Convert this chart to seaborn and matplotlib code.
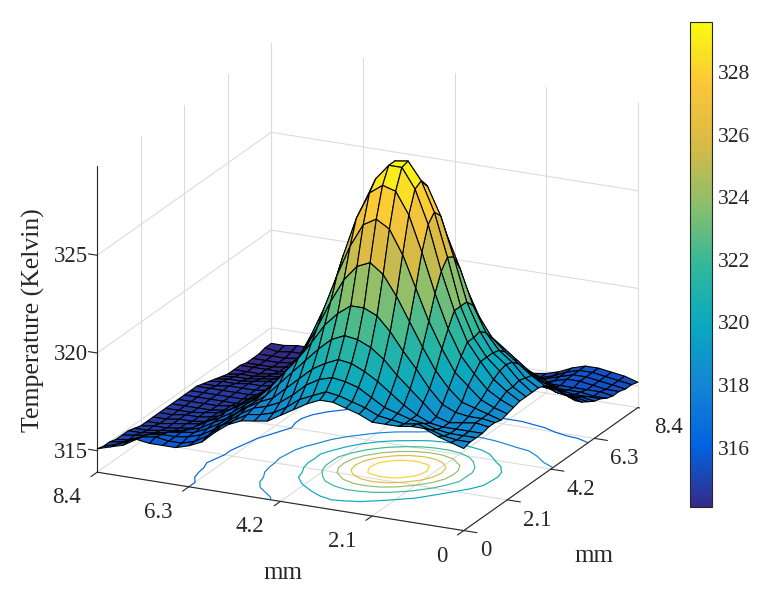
import numpy as np
import matplotlib
matplotlib.use("Agg")
import matplotlib.pyplot as plt
from matplotlib.colors import Normalize
from mpl_toolkits.mplot3d import proj3d
import seaborn as sns

# One row per y (0 to 8.4 mm), one column per x (0 to 8.4 mm)
grid_mm = [0.3 * k for k in range(29)]
temperature = [
    [318.1,318.3,318.5,318.8,318.8,318.7,318.7,318.7,319.0,319.2,319.4,319.4,319.1,318.7,318.3,317.9,317.8,317.7,317.4,316.9,316.3,316.0,315.8,315.8,315.8,315.9,315.5,315.3,315.1],
    [318.2,318.2,318.3,318.5,318.7,318.6,318.7,318.8,319.1,319.3,319.5,319.6,319.3,319.0,318.5,318.1,317.9,317.8,317.4,317.0,316.4,316.0,315.8,315.8,315.9,315.8,315.5,315.2,315.0],
    [318.2,318.2,318.2,318.3,318.5,318.6,318.8,319.0,319.4,319.8,320.0,320.1,319.9,319.5,318.9,318.4,318.1,317.9,317.5,317.0,316.5,316.1,315.9,315.8,315.8,315.7,315.4,315.1,315.0],
    [318.2,318.2,318.2,318.2,318.3,318.6,319.0,319.5,320.0,320.4,320.7,320.8,320.5,320.1,319.5,318.9,318.3,318.0,317.6,317.1,316.6,316.2,315.9,315.8,315.7,315.5,315.2,315.0,314.9],
    [318.3,318.4,318.3,318.2,318.4,319.0,319.6,320.2,320.9,321.4,321.7,321.8,321.5,320.9,320.2,319.5,318.8,318.1,317.6,317.1,316.6,316.3,315.9,315.7,315.5,315.3,315.1,315.0,314.9],
    [318.3,318.4,318.4,318.5,318.8,319.5,320.4,321.2,322.1,322.8,323.1,323.1,322.6,321.9,320.9,320.0,319.2,318.4,317.7,317.2,316.7,316.3,316.0,315.6,315.3,315.1,315.0,314.9,314.9],
    [318.2,318.4,318.6,318.8,319.4,320.2,321.3,322.5,323.7,324.7,325.2,324.9,324.1,322.9,321.5,320.2,319.2,318.5,317.8,317.2,316.8,316.4,315.9,315.4,315.1,315.0,314.9,314.8,314.8],
    [318.3,318.5,318.8,319.4,320.0,321.1,322.4,324.0,325.6,326.8,327.2,326.8,325.6,324.0,322.2,320.7,319.4,318.6,317.8,317.2,316.8,316.3,315.8,315.3,315.0,314.9,314.8,314.8,314.7],
    [318.4,318.7,319.1,319.8,320.6,321.9,323.6,325.6,327.4,328.5,328.7,328.2,326.8,324.8,322.6,320.9,319.6,318.7,317.9,317.2,316.8,316.3,315.8,315.2,315.0,314.9,314.8,314.7,314.7],
    [318.5,318.9,319.4,320.2,321.1,322.6,324.5,326.8,328.5,329.5,329.5,328.7,327.2,325.0,322.6,320.9,319.5,318.6,317.8,317.2,316.7,316.2,315.7,315.2,314.9,314.8,314.8,314.7,314.7],
    [318.5,318.9,319.6,320.2,321.1,322.6,325.0,327.2,328.7,329.6,329.5,328.5,326.8,324.5,322.5,320.9,319.6,318.5,317.7,317.1,316.6,316.1,315.6,315.1,314.9,314.8,314.8,314.7,314.7],
    [318.5,319.0,319.7,320.2,321.2,322.6,324.8,326.8,328.2,328.7,328.5,327.4,325.6,323.6,321.8,320.3,319.2,318.2,317.5,317.0,316.5,316.0,315.5,315.1,314.9,314.8,314.7,314.7,314.7],
    [318.5,318.9,319.6,320.1,320.9,322.2,324.0,325.6,326.8,327.2,326.8,325.6,324.0,322.4,321.0,319.7,318.7,317.8,317.2,316.8,316.3,315.8,315.3,315.0,314.8,314.7,314.7,314.7,314.7],
    [318.4,318.8,319.3,319.8,320.4,321.4,322.8,324.0,324.8,325.0,324.5,323.6,322.4,321.2,320.1,319.1,318.2,317.5,317.0,316.6,316.1,315.6,315.2,314.9,314.8,314.7,314.7,314.7,314.7],
    [318.1,318.4,318.8,319.2,319.8,320.5,321.6,322.4,322.8,322.8,322.5,321.8,321.0,320.1,319.2,318.4,317.7,317.2,316.8,316.4,315.9,315.5,315.1,314.8,314.7,314.7,314.7,314.7,314.7],
    [317.8,318.0,318.4,318.9,319.4,319.9,320.5,321.0,321.2,321.2,320.9,320.3,319.7,319.1,318.4,317.7,317.2,316.9,316.5,316.3,316.0,315.5,315.0,314.8,314.7,314.7,314.7,314.7,314.7],
    [317.3,317.7,318.0,318.3,318.6,319.0,319.5,319.7,319.9,319.8,319.6,319.2,318.7,318.2,317.7,317.2,316.9,316.7,316.5,316.3,316.0,315.5,315.1,314.8,314.7,314.7,314.7,314.7,314.7],
    [316.9,317.3,317.6,317.9,318.0,318.2,318.5,318.7,318.8,318.7,318.5,318.2,317.8,317.5,317.2,317.1,316.9,316.6,316.4,316.2,315.9,315.4,315.0,314.8,314.7,314.7,314.7,314.6,314.6],
    [316.5,316.8,317.0,317.1,317.3,317.6,317.7,317.8,317.9,317.8,317.7,317.5,317.2,317.0,316.9,316.8,316.6,316.4,316.2,316.0,315.7,315.3,315.0,314.8,314.7,314.7,314.6,314.6,314.5],
    [316.2,316.4,316.5,316.8,316.9,317.1,317.2,317.2,317.2,317.2,317.1,317.0,316.8,316.6,316.5,316.4,316.3,316.2,316.0,315.9,315.5,315.2,314.9,314.7,314.7,314.6,314.5,314.5,314.4],
    [316.0,316.1,316.2,316.4,316.5,316.7,316.8,316.8,316.8,316.7,316.7,316.5,316.4,316.2,316.0,316.0,316.0,316.0,315.9,315.7,315.4,315.1,314.9,314.7,314.6,314.5,314.4,314.4,314.3],
    [315.8,315.9,315.9,316.0,316.2,316.3,316.4,316.4,316.4,316.3,316.2,316.1,316.0,315.8,315.7,315.7,315.7,315.7,315.7,315.5,315.3,315.0,314.8,314.6,314.5,314.4,314.3,314.3,314.2],
    [315.7,315.7,315.7,315.8,315.8,315.9,316.0,316.0,316.0,315.9,315.8,315.8,315.6,315.5,315.4,315.4,315.4,315.4,315.4,315.3,315.1,314.9,314.7,314.5,314.4,314.3,314.2,314.2,314.2],
    [315.5,315.5,315.6,315.6,315.6,315.6,315.6,315.7,315.6,315.5,315.5,315.4,315.3,315.2,315.2,315.1,315.2,315.2,315.2,315.1,314.9,314.7,314.6,314.4,314.3,314.2,314.2,314.2,314.2],
    [315.4,315.5,315.5,315.5,315.5,315.5,315.4,315.4,315.3,315.2,315.1,315.1,315.0,315.0,315.0,315.0,315.0,315.0,315.0,314.9,314.8,314.6,314.5,314.3,314.2,314.2,314.1,314.1,314.1],
    [315.4,315.4,315.5,315.6,315.6,315.4,315.2,315.1,315.0,314.9,314.9,314.8,314.8,314.8,314.8,314.8,314.8,314.8,314.8,314.8,314.7,314.6,314.4,314.3,314.2,314.2,314.1,314.1,314.1],
    [315.3,315.4,315.5,315.6,315.6,315.4,315.2,315.0,314.9,314.8,314.7,314.7,314.7,314.7,314.7,314.7,314.7,314.7,314.7,314.7,314.6,314.5,314.4,314.3,314.2,314.2,314.1,314.1,314.1],
    [315.3,315.4,315.5,315.6,315.6,315.4,315.1,314.9,314.8,314.7,314.7,314.6,314.6,314.6,314.6,314.6,314.6,314.6,314.6,314.6,314.6,314.5,314.4,314.3,314.2,314.2,314.2,314.1,314.2],
    [315.2,315.4,315.5,315.6,315.6,315.4,315.1,314.9,314.8,314.7,314.6,314.5,314.5,314.5,314.5,314.5,314.5,314.5,314.5,314.5,314.5,314.5,314.5,314.4,314.4,314.3,314.3,314.2,314.2],
]

mm_ticks = [0, 2.1, 4.2, 6.3, 8.4]
mm_tick_labels = ["0", "2.1", "4.2", "6.3", "8.4"]
z_ticks = [315, 320, 325]
contour_levels = [316, 318, 320, 322, 324, 326, 328]
colorbar_ticks = [316, 318, 320, 322, 324, 326, 328]
parula = ["#352a87", "#0363e1", "#1485d4", "#09a9c0", "#33b89a", "#8cbf6b", "#d9ba45", "#fcc738", "#f9fb0e"]

Z_LOW, Z_HIGH = 313.9, 329.55
GRID_GRAY = "#dcdcdc"
AXIS_DARK = "#262626"

sns.set_theme(style="white")
plt.rcParams['font.family'] = ['Liberation Serif']

W, H = 763, 596
fig = plt.figure(figsize=(W / 100, H / 100), dpi=100)
side = 560
left = 367.5 - 0.5135 * side
bottom = (H - 287) - 0.5135 * side
ax = fig.add_axes([left / W, bottom / H, side / W, side / H], projection='3d', proj_type='ortho', computed_zorder=False)
ax.set_box_aspect((1, 1, 0.8), zoom=1.143)
ax.view_init(elev=19.6, azim=-64.6)
ax.set_xlim(8.4, 0)
ax.set_ylim(0, 8.4)
ax.set_zlim(Z_LOW, Z_HIGH)
# the axes are drawn by hand below, so the stock ones carry no ticks
ax.set_xticks([])
ax.set_yticks([])
ax.set_zticks([])
ax.set_axis_off()


def put_text(x, y, z, s, **kwargs):
    # place a label at a 3d spot as plain 2d text
    px, py, _ = proj3d.proj_transform(x, y, z, ax.get_proj())
    ax.text2D(px, py, s, transform=ax.transData, va='center', color=AXIS_DARK, **kwargs)


# walls and floor
for t in mm_ticks:
    ax.plot([8.4, 8.4], [t, t], [Z_LOW, Z_HIGH], color=GRID_GRAY, lw=0.8, zorder=1)
    ax.plot([t, t], [8.4, 8.4], [Z_LOW, Z_HIGH], color=GRID_GRAY, lw=0.8, zorder=1)
    ax.plot([t, t], [0, 8.4], [Z_LOW, Z_LOW], color=GRID_GRAY, lw=0.8, zorder=1)
    ax.plot([0, 8.4], [t, t], [Z_LOW, Z_LOW], color=GRID_GRAY, lw=0.8, zorder=1)
for z in z_ticks:
    ax.plot([8.4, 8.4], [0, 8.4], [z, z], color=GRID_GRAY, lw=0.8, zorder=1)
    ax.plot([0, 8.4], [8.4, 8.4], [z, z], color=GRID_GRAY, lw=0.8, zorder=1)

X, Y = np.meshgrid(grid_mm, grid_mm)
Z = np.array(temperature)
cmap = sns.blend_palette(parula, n_colors=256, as_cmap=True)
norm = Normalize(314.1, 329.6)

ax.contour(X, Y, Z, levels=contour_levels, zdir='z', offset=Z_LOW, cmap=cmap, norm=norm, linewidths=0.85, zorder=2)
surf = ax.plot_surface(X, Y, Z, rstride=1, cstride=1, cmap=cmap, norm=norm, edgecolor='black', linewidth=0.8, shade=False, antialiased=True, zorder=3)

# axis lines, ticks and labels
ax.plot([0, 8.4], [0, 0], [Z_LOW, Z_LOW], color=AXIS_DARK, lw=0.8, zorder=4)
ax.plot([0, 0], [0, 8.4], [Z_LOW, Z_LOW], color=AXIS_DARK, lw=0.8, zorder=4)
ax.plot([8.4, 8.4], [0, 0], [Z_LOW, Z_HIGH], color=AXIS_DARK, lw=0.8, zorder=4)
for t, label in zip(mm_ticks, mm_tick_labels):
    ax.plot([t, t], [0, -0.3], [Z_LOW, Z_LOW], color=AXIS_DARK, lw=0.8, zorder=4)
    ax.plot([0, -0.3], [t, t], [Z_LOW, Z_LOW], color=AXIS_DARK, lw=0.8, zorder=4)
    put_text(t, -0.77, Z_LOW - 0.73, label, ha='right', fontsize=16.5)
    put_text(-0.37, t, Z_LOW - 0.9, label, ha='left', fontsize=16.5)
for z in z_ticks:
    ax.plot([8.4, 8.6], [0, 0], [z, z], color=AXIS_DARK, lw=0.8, zorder=4)
    put_text(8.62, 0, z - 0.15, str(z), ha='right', fontsize=16.5)

put_text(4.15, 0, Z_LOW - 3.65, "mm", ha='center', fontsize=18)
put_text(-1.0, 4.2, Z_LOW - 4.08, "mm", ha='center', fontsize=18)
put_text(9.85, 0, 321.15, "Temperature (Kelvin)", rotation=90, ha='center', fontsize=18.5)

cax = fig.add_axes([690 / W, (H - 507) / H, 22 / W, 485 / H])
cbar = fig.colorbar(surf, cax=cax, ticks=colorbar_ticks)
cbar.ax.tick_params(labelsize=15.5, direction='in', length=5, width=0.7, colors=AXIS_DARK, pad=4)
cbar.outline.set_linewidth(0.8)
cbar.outline.set_edgecolor(AXIS_DARK)

fig.savefig('out.png', dpi=100)
plt.close(fig)
